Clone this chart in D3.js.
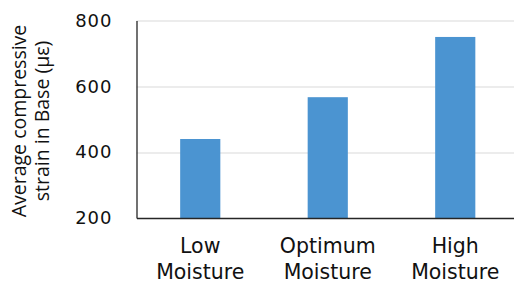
<!DOCTYPE html>
<html>
<head>
<meta charset="utf-8">
<script src="https://cdn.jsdelivr.net/npm/d3@7"></script>
<style>
  body { margin: 0; background: #fff; }
  svg { display: block; }
</style>
</head>
<body>
<svg class="chart"></svg>
<script>
var categories = [['Low', 'Moisture'], ['Optimum', 'Moisture'], ['High', 'Moisture']];
var strains = [440, 567, 750];
var yTicks = [200, 400, 600, 800];
var yTitle = ['Average compressive', 'strain in Base (\u03bc\u03b5)'];

var W = 514, H = 284;
var margin = { top: 20.5, right: -5, bottom: 66, left: 136.5 };
var width = W - margin.left - margin.right;
var height = H - margin.top - margin.bottom;

var x = d3.scaleBand().domain(d3.range(categories.length)).range([0, width])
  .paddingInner(0.685).paddingOuter(0.3425);
var y = d3.scaleLinear().domain([200, 800]).range([height, 0]);

var svg = d3.select('.chart').attr('width', W).attr('height', H);
var chart = svg.append('g')
  .attr('transform', 'translate(' + margin.left + ',' + margin.top + ')');

// gridlines
chart.selectAll('.grid')
  .data(yTicks.filter(d => d > 200))
  .enter().append('line')
  .attr('x1', 0).attr('x2', width)
  .attr('y1', d => Math.round(y(d)) + 0.5).attr('y2', d => Math.round(y(d)) + 0.5)
  .attr('stroke', '#d9d9d9').attr('stroke-width', 1);

// bars
chart.selectAll('.bar')
  .data(strains)
  .enter().append('rect')
  .attr('class', 'bar')
  .attr('x', (d, i) => x(i))
  .attr('y', d => y(d))
  .attr('width', x.bandwidth())
  .attr('height', d => height - y(d))
  .attr('fill', '#4b94d1');

// y axis
var yAxis = d3.axisLeft(y).tickValues(yTicks).tickSize(0).tickPadding(24);
var yg = chart.append('g').call(yAxis);
yg.select('.domain').attr('stroke', '#262626').attr('stroke-width', 1.3);
yg.selectAll('text')
  .attr('font-family', 'DejaVu Sans').attr('font-size', 18)
  .attr('letter-spacing', 1).attr('fill', '#111');

// x axis
var xg = chart.append('g')
  .attr('transform', 'translate(0,' + height + ')')
  .call(d3.axisBottom(x).tickSize(0).tickFormat(''));
xg.select('.domain').attr('stroke', '#262626').attr('stroke-width', 1.3);
xg.selectAll('.tick').each(function (d) {
  var t = d3.select(this).append('text')
    .attr('text-anchor', 'middle')
    .attr('font-family', 'DejaVu Sans').attr('font-size', 20.5)
    .attr('fill', '#111');
  categories[d].forEach((s, k) => {
    t.append('tspan').attr('x', 0).attr('y', 35 + k * 26).text(s);
  });
});

// y title
var title = svg.append('text')
  .attr('transform', 'translate(0,121) rotate(-90)')
  .attr('text-anchor', 'middle')
  .attr('font-family', 'Open Sans').attr('font-size', 19.5)
  .attr('fill', '#111');
yTitle.forEach((s, k) => {
  title.append('tspan').attr('x', 0).attr('y', 26 + k * 23).text(s);
});
</script>
</body>
</html>
